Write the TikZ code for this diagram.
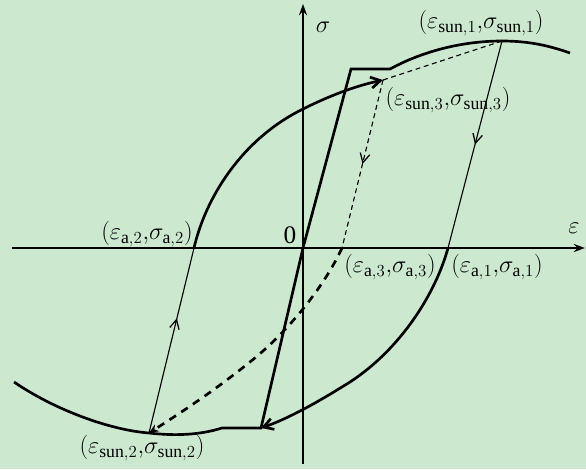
\documentclass[tikz,border=0pt]{standalone}
\usepackage{fontspec}
\setmainfont{Liberation Serif}
\usetikzlibrary{arrows.meta, decorations.markings}
\definecolor{bggreen}{RGB}{204,232,207}

\begin{document}
\begin{tikzpicture}[x=0.025cm, y=-0.025cm, >=Stealth,
		axis/.style={line width=1.4pt, -{Stealth[length=2.8mm, width=2mm]}},
		skel/.style={line width=1.9pt, line join=miter},
		branch/.style={line width=0.8pt},
		thindash/.style={branch, dash pattern=on 3.5pt off 2.6pt},
		thickdash/.style={line width=1.9pt, dash pattern=on 5.5pt off 4.5pt},
		lbl/.style={font=\fontsize{18}{21}\selectfont, inner sep=0pt},
		midarrow/.style={postaction={decorate}, decoration={markings,
				mark=at position #1 with {\arrow{Straight Barb[length=2.3mm, width=2.4mm, line width=0.9pt]}}}}]
		
		\fill[bggreen] (0,0) rectangle (586,469);
		\useasboundingbox (0,0) rectangle (586,469);
		
		% key points
		\coordinate (O) at (303,248);
		\coordinate (a1) at (448,248);
		\coordinate (a2) at (194,248);
		\coordinate (a3) at (342,248);
		\coordinate (s1) at (502,41);
		\coordinate (s2) at (149,433);
		\coordinate (s3) at (383,80);
		\coordinate (pu1) at (351,69);
		\coordinate (pu2) at (390,69);
		\coordinate (pl1) at (261,428);
		\coordinate (pl2) at (222,428);
		
		% axes
		\coordinate (xl) at (12,248);
		\coordinate (xr) at (585,248);
		\coordinate (yb) at (303,464);
		\coordinate (yt) at (303,4);
		\draw[axis] (xl) -- (xr);
		\draw[axis] (yb) -- (yt);
		
		% skeleton curve
		\draw[skel] (O) -- (pu1) -- (pu2) .. controls (425,50) and (465,41) .. (s1)
			.. controls (530,41) and (550,46) .. (570,53);
		\draw[skel] (O) -- (pl1) -- (pl2) .. controls (200,435) and (175,436) .. (s2)
			.. controls (110,430) and (55,410) .. (14,382);
		
		% reloading and unloading
		\draw[skel, -{Straight Barb[length=2.4mm, width=2.8mm]}] (a2) .. controls (205,200) and (240,140) .. (303,109)
			.. controls (335,93) and (360,85) .. (s3);
		\draw[skel, -{Straight Barb[length=2.4mm, width=2.8mm]}] (a1) .. controls (436,292) and (402,348) .. (350,382)
			.. controls (315,404) and (287,419) .. (pl1);
		\draw[thickdash, -{Stealth[length=2.4mm, width=2mm]}] (a3) .. controls (325,285) and (290,330) .. (250,362)
			.. controls (215,390) and (185,410) .. (s2);
		
		\draw[branch, midarrow=0.5] (s1) -- (a1);
		\draw[branch, midarrow=0.62] (s2) -- (a2);
		\draw[thindash, midarrow=0.5] (s3) -- (a3);
		\draw[thindash] (s3) -- (s1);
		
		% labels
		\node[lbl] (sig) at (323,27) {$\sigma$};
		\node[lbl] (eps) at (574,228) {$\varepsilon$};
		\node[lbl] (zero) at (290,235) {0};
		\node[lbl] (lsun1) at (481,23) {$(\varepsilon_{\mathrm{sun},1}{,}\sigma_{\mathrm{sun},1})$};
		\node[lbl] (lsun3) at (448,100) {$(\varepsilon_{\mathrm{sun},3}{,}\sigma_{\mathrm{sun},3})$};
		\node[lbl] (lsun2) at (142,448) {$(\varepsilon_{\mathrm{sun},2}{,}\sigma_{\mathrm{sun},2})$};
		\node[lbl] (la3) at (390,267) {$(\varepsilon_{\mathrm{a},3}{,}\sigma_{\mathrm{a},3})$};
		\node[lbl] (la1) at (497,267) {$(\varepsilon_{\mathrm{a},1}{,}\sigma_{\mathrm{a},1})$};
		\node[lbl] (la2) at (147,234) {$(\varepsilon_{\mathrm{a},2}{,}\sigma_{\mathrm{a},2})$};
	\end{tikzpicture}
\end{document}
